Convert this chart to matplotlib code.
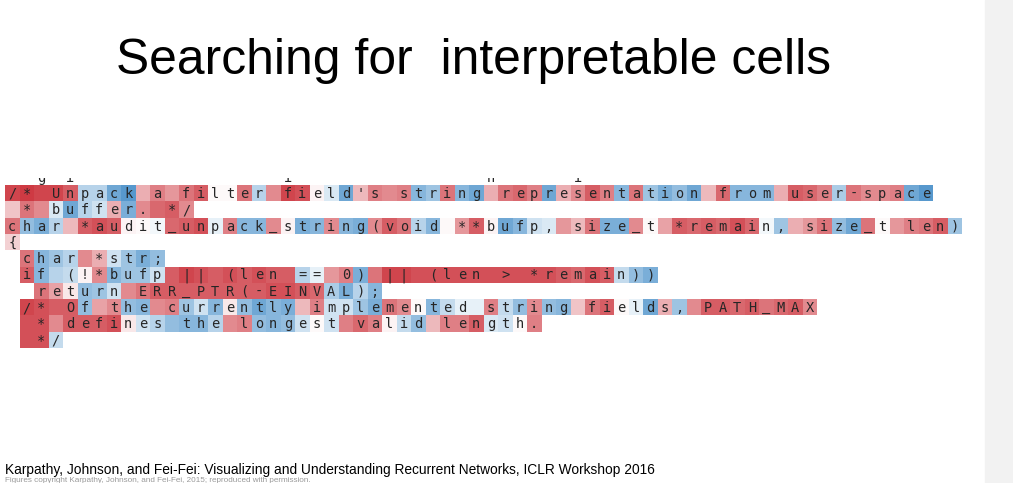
import numpy as np
import matplotlib
matplotlib.use("Agg")
import matplotlib.pyplot as plt
from matplotlib.colors import LinearSegmentedColormap

TITLE = "Searching for  interpretable cells"
CITE = ("Karpathy, Johnson, and Fei-Fei: Visualizing and Understanding Recurrent Networks, "
        "ICLR Workshop 2016")
COPYRIGHT = "Figures copyright Karpathy, Johnson, and Fei-Fei, 2015; reproduced with permission."

# one text line per row, the column where it starts, and the cell activation per character
LINES = [
    "  g i              i             n     i",
    "/* Unpack a filter field's string representation from user-space",
    " * buffer. */",
    "char *audit_unpack_string(void **bufp, size_t *remain, size_t len)",
    "{",
    "char *str;",
    "if (!*bufp || (len == 0) || (len > *remain))",
    "return ERR_PTR(-EINVAL);",
    "/* Of the currently implemented string fields, PATH_MAX",
    " * defines the longest valid length.",
    " */",
]
STARTS = [0, 0, 0, 0, 0, 1, 1, 2, 1, 1, 1]
VALS = [
    [],
    [0.8, 0.85, 0.8, 0.8, 0.7, -0.3, -0.3, -0.6, -0.7, 0.35, 0.55, 0.45, 0.6, 0.7, 0.03, 0.03,
     0.6, -0.3, 0.5, 0.8, 0.75, 0.05, -0.15, -0.6, 0.3, 0.55, 0.5, 0.55, -0.5, -0.4, 0.6, -0.5,
     -0.6, 0.35, 0.6, 0.65, 0.55, -0.6, 0.35, 0.5, 0.7, 0.55, -0.5, 0.6, -0.4, -0.55, -0.45, -0.6,
     0.3, 0.65, -0.5, -0.5, -0.5, 0.35, 0.7, 0.65, 0.55, -0.35, 0.6, 0.5, 0.5, 0.55, -0.6, -0.7],
    [0.25, 0.6, 0.5, -0.15, -0.6, -0.3, -0.2, 0.35, -0.55, 0.5, 0.65, 0.7, 0.5],
    [0.6, -0.45, -0.55, -0.3, 0.3, 0.7, 0.75, 0.7, 0.05, 0.03, -0.05, 0.65, 0.7, 0.75, -0.1, 0.55,
     -0.5, -0.5, 0.5, 0.05, -0.55, -0.5, 0.5, -0.5, -0.55, 0.5, 0.7, 0.6, -0.3, -0.5, 0.03, 0.45,
     0.7, 0.05, -0.6, -0.5, -0.2, -0.15, 0.45, 0.3, 0.6, -0.55, -0.55, 0.5, 0.03, 0.4, 0.7, 0.65,
     0.7, 0.65, 0.75, 0.65, -0.05, -0.4, 0.35, 0.45, 0.6, -0.45, -0.6, 0.6, 0.03, 0.45, 0.55, 0.6,
     0.7, -0.4],
    [0.2],
    [0.6, -0.5, -0.4, -0.3, 0.5, 0.35, -0.2, -0.4, -0.55, -0.45],
    [0.7, -0.5, -0.3, -0.25, 0.05, 0.5, -0.5, -0.4, -0.4, -0.2, 0.7, 0.8, 0.75, 0.7, 0.75, 0.7,
     0.75, 0.7, 0.7, -0.3, -0.1, 0.45, 0.55, -0.55, 0.6, 0.8, 0.8, 0.75, 0.75, 0.75, 0.75, 0.75,
     0.75, 0.75, 0.75, 0.75, 0.75, 0.7, 0.65, 0.75, 0.7, -0.25, -0.45, -0.55],
    [0.6, 0.4, 0.1, -0.45, -0.4, -0.2, 0.5, 0.6, 0.7, 0.7, 0.7, 0.7, 0.7, 0.7, 0.7, 0.7, 0.75,
     0.75, 0.7, 0.65, -0.35, -0.55, -0.3, -0.5],
    [0.8, 0.75, 0.7, 0.7, -0.45, 0.4, 0.5, -0.45, -0.5, 0.5, 0.55, -0.4, -0.2, -0.5, 0.1, -0.45,
     -0.6, -0.5, -0.55, 0.3, 0.55, -0.2, -0.2, -0.4, -0.55, 0.6, 0.5, 0.03, -0.5, -0.25, -0.1,
     -0.1, 0.55, -0.25, -0.45, 0.5, -0.45, -0.5, 0.25, 0.6, 0.7, 0.03, -0.1, -0.6, 0.35, -0.4,
     0.5, 0.7, 0.7, 0.65, 0.7, 0.6, 0.65, 0.7, 0.5],
    [0.75, 0.75, 0.5, 0.7, 0.7, 0.7, 0.75, 0.1, -0.2, -0.3, -0.45, -0.5, -0.5, -0.3, 0.5, 0.55,
     -0.45, -0.5, -0.45, -0.2, 0.03, -0.2, 0.55, 0.65, 0.55, 0.05, -0.25, -0.45, 0.3, 0.55, 0.55,
     0.7, -0.15, -0.2, 0.03, 0.55],
    [0.75, 0.75, -0.25],
]
NCOLS = 66

cmap = LinearSegmentedColormap.from_list("actv", ["#0f6cb8", "#ffffff", "#c51822"])

grid = np.full((len(LINES), NCOLS), np.nan)
for r, (s, v) in enumerate(zip(STARTS, VALS)):
    grid[r, s:s + len(v)] = v

fig = plt.figure(figsize=(10.13, 4.83), dpi=100)
fig.patch.set_facecolor("white")
# light grey strip at the right edge of the slide
fig.patches.append(plt.Rectangle((985 / 1013, 0), 28 / 1013, 1, transform=fig.transFigure,
                                 color="#f2f2f2", zorder=0))

ax = fig.add_axes([5 / 1013, 1 - 348 / 483, 957 / 1013, 170 / 483])
ax.pcolormesh(np.arange(NCOLS + 1) - 0.5, np.arange(len(LINES) + 1) - 0.5,
              np.ma.masked_invalid(grid), cmap=cmap, vmin=-1, vmax=1)
for r, (s, line) in enumerate(zip(STARTS, LINES)):
    for i, ch in enumerate(line):
        if ch != " ":
            ax.text(s + i, r + 0.05, ch, ha="center", va="center", family="DejaVu Sans Mono",
                    fontsize=9.8, color="#262626", clip_on=True)
ax.set_xlim(-0.5, NCOLS - 0.5)
ax.set_ylim(10.5, 0.5 - 7 / 16.3)
ax.axis("off")

fig.text(473.5 / 1013, 1 - 74 / 483, TITLE, ha="center", va="baseline",
         family="Liberation Sans", fontsize=35.8, color="black")
fig.text(5 / 1013, 1 - 474 / 483, CITE, ha="left", va="baseline",
         family="Liberation Sans", fontsize=9.95, color="black")
fig.text(5 / 1013, 0.003, COPYRIGHT, ha="left", va="baseline",
         family="Liberation Sans", fontsize=5.9, color="#9a9a9a")

fig.savefig("out.png", dpi=100)
